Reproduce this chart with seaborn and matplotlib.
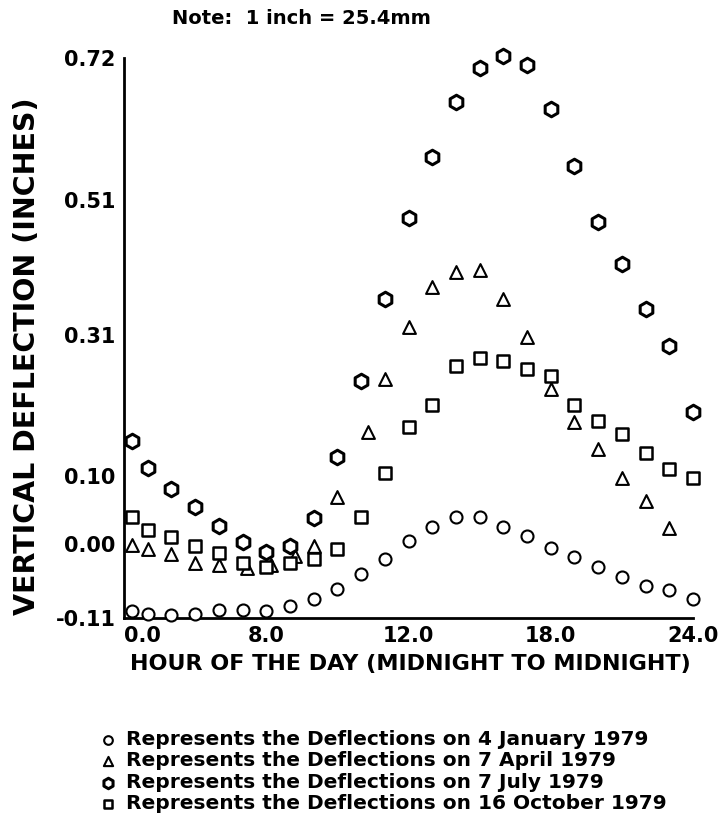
"""Vertical deflection through the day for four dates in 1979."""

import matplotlib

matplotlib.use("Agg")
import matplotlib.pyplot as plt
import seaborn as sns

# hour of the day (first reading sits a little right of midnight on the plot)
HOURS = [0.35, 1, 2, 3, 4, 5, 6, 7, 8, 9, 10, 11, 12,
         13, 14, 15, 16, 17, 18, 19, 20, 21, 22, 23, 24]
APRIL_HOURS = [0.35, 1, 2, 3, 4, 5.2, 6.2, 7.2, 8, 9, 10.3, 11,
               12, 13, 14, 15, 16, 17, 18, 19, 20, 21, 22, 23]

# vertical deflection, inches
JAN_4 = [-0.100, -0.104, -0.106, -0.104, -0.098, -0.098, -0.100, -0.092,
         -0.082, -0.067, -0.045, -0.022, 0.004, 0.025, 0.039, 0.039,
         0.025, 0.011, -0.006, -0.019, -0.035, -0.049, -0.062, -0.068,
         -0.082]
APR_7 = [-0.002, -0.008, -0.015, -0.029, -0.031, -0.036, -0.031, -0.018,
         -0.003, 0.070, 0.165, 0.244, 0.322, 0.381, 0.403, 0.406,
         0.363, 0.307, 0.229, 0.181, 0.140, 0.098, 0.063, 0.023]
JUL_7 = [0.153, 0.112, 0.081, 0.054, 0.027, 0.002, -0.012, -0.004,
         0.038, 0.128, 0.242, 0.363, 0.483, 0.574, 0.655, 0.705,
         0.723, 0.710, 0.644, 0.560, 0.477, 0.414, 0.348, 0.293, 0.196]
OCT_16 = [0.039, 0.020, 0.010, -0.003, -0.013, -0.029, -0.034, -0.028,
          -0.022, -0.007, 0.040, 0.105, 0.173, 0.206, 0.263, 0.276,
          0.271, 0.259, 0.249, 0.205, 0.182, 0.162, 0.135, 0.111, 0.097]

X_TICKS = [0, 6, 12, 18, 24]
X_TICK_LABELS = ["0.0", "8.0", "12.0", "18.0", "24.0"]
Y_TICKS = [-0.11, 0.00, 0.10, 0.31, 0.51, 0.72]
Y_TICK_LABELS = ["-0.11", "0.00", "0.10", "0.31", "0.51", "0.72"]

LEGEND_LABELS = [
    "Represents the Deflections on 4 January 1979",
    "Represents the Deflections on 7 April 1979",
    "Represents the Deflections on 7 July 1979",
    "Represents the Deflections on 16 October 1979",
]

sns.set_theme(style="white")
plt.rcParams["font.family"] = ["DejaVu Sans"]
plt.rcParams["font.weight"] = "bold"
plt.rcParams["text.color"] = "black"
plt.rcParams["xtick.color"] = "black"
plt.rcParams["ytick.color"] = "black"
plt.rcParams["axes.labelcolor"] = "black"

fig = plt.figure(figsize=(7.18, 8.24), dpi=100)
ax = fig.add_axes([124 / 718, 1 - 618 / 824, 569 / 718, 560 / 824])

# (x, y, marker, size, edge width)
series = [
    (HOURS, JAN_4, "o", 75, 1.5),
    (APRIL_HOURS, APR_7, "^", 85, 1.5),
    (HOURS, JUL_7, "h", 110, 2.2),
    (HOURS, OCT_16, "s", 65, 1.8),
]
for (x, y, m, s, lw), lab in zip(series, LEGEND_LABELS):
    sns.scatterplot(x=x, y=y, marker=m, s=s, color="white",
                    edgecolor="black", linewidth=lw, label=lab,
                    clip_on=False, zorder=3, ax=ax)
if ax.get_legend() is not None:
    ax.get_legend().remove()

ax.set_xlim(0, 24)
ax.set_ylim(-0.11, 0.72)
ax.set_xticks(X_TICKS)
ax.set_xticklabels(X_TICK_LABELS, fontweight="bold")
ax.get_xticklabels()[0].set_ha("left")  # "0.0" starts at the axis corner
ax.set_yticks(Y_TICKS)
ax.set_yticklabels(Y_TICK_LABELS, fontweight="bold")
ax.tick_params(axis="both", direction="out", length=4, width=1.5,
               color="black", labelsize=15, pad=2)
sns.despine(ax=ax)
for side in ("left", "bottom"):
    ax.spines[side].set_linewidth(2)
    ax.spines[side].set_color("black")

ax.set_xlabel("HOUR OF THE DAY (MIDNIGHT TO MIDNIGHT)", fontsize=16,
              fontweight="bold")
ax.xaxis.set_label_coords(0.503, -0.083)
ax.xaxis.label.set_va("center")
ax.set_ylabel("VERTICAL DEFLECTION (INCHES)", fontsize=20.5,
              fontweight="bold")
ax.yaxis.set_label_coords(-0.17, 0.468)
ax.yaxis.label.set_va("center")

fig.text(172 / 718, 1 - 18 / 824, "Note:  1 inch = 25.4mm", fontsize=14,
         fontweight="bold", ha="left", va="center")

handles, labels = ax.get_legend_handles_labels()
fig.legend(handles, labels, loc="upper left",
           bbox_to_anchor=(98 / 718, 1 - 730 / 824), frameon=False,
           markerscale=0.72, handlelength=1.0, handletextpad=0.4,
           labelspacing=0.12, borderaxespad=0, borderpad=0,
           prop={"size": 14.5, "weight": "bold"})

fig.savefig("out.png", dpi=100, facecolor="white")
plt.close(fig)
